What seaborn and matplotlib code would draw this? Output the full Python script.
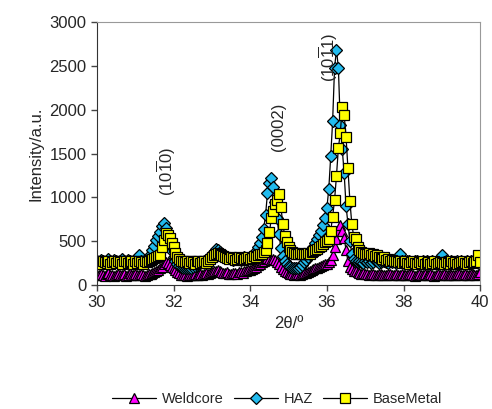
import matplotlib
matplotlib.use('Agg')
import matplotlib.pyplot as plt
import numpy as np
import pandas as pd
import seaborn as sns

# 2-theta scan, 30 to 40 deg in 0.05 steps (201 points)
two_theta = np.round(np.linspace(30, 40, 201), 2)

weldcore = [
    120, 110, 130, 115, 105, 125, 135, 110, 120, 100, 115, 130, 120, 110, 125, 105, 120, 135, 115, 110,
    125, 110, 120, 130, 115, 105, 120, 125, 130, 140, 150, 160, 175, 190, 210, 240, 265, 250, 230, 210,
    190, 170, 150, 135, 120, 110, 115, 105, 110, 120, 115, 125, 110, 120, 130, 115, 125, 135, 130, 140,
    145, 155, 165, 170, 160, 150, 140, 135, 145, 130, 125, 140, 135, 130, 145, 150, 140, 155, 160, 170,
    175, 185, 195, 210, 225, 240, 260, 280, 295, 305, 300, 290, 300, 285, 260, 235, 210, 185, 165, 150,
    140, 130, 125, 120, 130, 125, 120, 130, 135, 140, 150, 160, 170, 180, 190, 200, 210, 220, 225, 235,
    240, 260, 290, 340, 430, 520, 620, 690, 620, 540, 400, 270, 210, 180, 165, 155, 145, 140, 130, 135,
    130, 125, 120, 130, 125, 115, 120, 130, 125, 115, 120, 110, 125, 130, 120, 115, 125, 110, 120, 130,
    115, 120, 110, 125, 130, 115, 105, 120, 125, 110, 120, 130, 115, 110, 125, 120, 105, 115, 130, 120,
    115, 125, 110, 120, 130, 115, 120, 110, 125, 130, 115, 120, 125, 110, 120, 130, 125, 115, 120, 125,
    150,
]

haz = [
    280, 260, 290, 270, 250, 280, 300, 270, 260, 290, 280, 250, 270, 300, 280, 260, 290, 270, 260, 280,
    290, 270, 340, 280, 260, 290, 300, 320, 350, 400, 450, 510, 560, 610, 670, 705, 650, 560, 470, 390,
    320, 270, 240, 220, 210, 200, 195, 190, 200, 195, 210, 220, 230, 240, 250, 260, 270, 280, 300, 320,
    350, 380, 410, 400, 380, 360, 340, 330, 320, 310, 300, 290, 300, 310, 300, 290, 310, 320, 300, 310,
    320, 330, 350, 390, 430, 480, 550, 640, 800, 1050, 1160, 1220, 1120, 950, 760, 580, 420, 330, 270, 240,
    220, 210, 200, 195, 190, 200, 210, 230, 260, 290, 320, 360, 400, 440, 480, 520, 570, 620, 690, 770,
    880, 1100, 1470, 1870, 2480, 2680, 2480, 1830, 1550, 1280, 900, 700, 500, 360, 300, 270, 260, 280, 260, 250,
    270, 260, 280, 250, 260, 290, 270, 250, 260, 280, 270, 260, 250, 280, 260, 270, 250, 260, 360, 270,
    250, 260, 280, 270, 250, 260, 270, 280, 260, 250, 270, 260, 280, 250, 260, 270, 260, 250, 280, 270,
    340, 260, 270, 250, 260, 280, 260, 250, 270, 260, 280, 250, 260, 270, 250, 280, 260, 270, 260, 280,
    300,
]

base_metal = [
    250, 270, 240, 280, 260, 250, 270, 240, 260, 280, 250, 270, 260, 240, 270, 280, 250, 260, 270, 240,
    270, 250, 280, 260, 240, 270, 260, 280, 290, 300, 310, 320, 330, 345, 440, 515, 590, 570, 535, 477,
    440, 365, 320, 300, 280, 270, 260, 280, 250, 270, 260, 240, 270, 280, 250, 260, 270, 250, 280, 300,
    320, 340, 360, 370, 350, 340, 330, 320, 310, 300, 320, 310, 290, 300, 320, 310, 290, 300, 310, 320,
    300, 310, 330, 320, 340, 350, 360, 380, 400, 480, 600, 760, 845, 930, 975, 1040, 890, 700, 560, 495,
    430, 400, 380, 370, 360, 355, 365, 360, 350, 360, 370, 360, 380, 390, 400, 410, 430, 450, 470, 490,
    500, 520, 620, 780, 970, 1245, 1565, 1735, 2030, 1945, 1690, 1335, 960, 700, 550, 520, 440, 400, 380, 370,
    360, 350, 370, 340, 350, 330, 340, 320, 310, 300, 320, 290, 300, 280, 290, 270, 280, 260, 270, 250,
    260, 270, 250, 240, 260, 270, 250, 240, 260, 250, 270, 240, 250, 260, 240, 250, 270, 240, 250, 260,
    250, 240, 260, 250, 240, 270, 250, 260, 240, 250, 260, 270, 250, 240, 260, 270, 250, 260, 280, 340,
    260,
]

peak_labels = [r'(10$\overline{1}$0)', '(0002)', r'(10$\overline{1}$1)']
peak_pos = [31.82, 34.73, 36.04]
peak_y = [1300, 1800, 2600]

sns.set_style('white')
plt.rcParams['font.family'] = ['Liberation Sans', 'DejaVu Sans']
plt.rcParams['mathtext.fontset'] = 'custom'
plt.rcParams['mathtext.rm'] = 'Liberation Sans'
plt.rcParams['mathtext.it'] = 'Liberation Sans'

fig = plt.figure(figsize=(4.92, 4.09), dpi=100)
ax = fig.add_axes([0.197, 0.303, 0.779, 0.643])

series = [
    ('Weldcore', weldcore, '^', '#FF00FF', 7.5),
    ('HAZ', haz, 'D', '#22BBEE', 6),
    ('BaseMetal', base_metal, 's', '#FFFF00', 7),
]
for name, vals, mk, col, ms in series:
    sns.lineplot(x=two_theta, y=vals, ax=ax, label=name, color='black',
                 linewidth=0.9, marker=mk, markersize=ms,
                 markerfacecolor=col, markeredgecolor='black',
                 markeredgewidth=0.9, estimator=None, sort=False)

for lab, xp, yp in zip(peak_labels, peak_pos, peak_y):
    ax.text(xp, yp, lab, rotation=90, ha='center', va='center', fontsize=12)

ax.set_xlim(30, 40)
ax.set_ylim(0, 3000)
ax.set_xticks(range(30, 41, 2))
ax.set_yticks(range(0, 3001, 500))
ax.tick_params(axis='both', labelsize=12, direction='out', length=4,
               width=1, color='#444444', bottom=True, left=True)
ax.set_xlabel('2θ/º', fontsize=12)
ax.set_ylabel('Intensity/a.u.', fontsize=12)

for s in ['left', 'bottom']:
    ax.spines[s].set_color('#333333')
for s in ['top', 'right']:
    ax.spines[s].set_color('#999999')

ax.legend(loc='center', bbox_to_anchor=(0.47, -0.435), ncol=3, frameon=False,
          fontsize=10.5, handlelength=3.0, columnspacing=0.7, handletextpad=0.4)

fig.savefig('out.png', dpi=100)
